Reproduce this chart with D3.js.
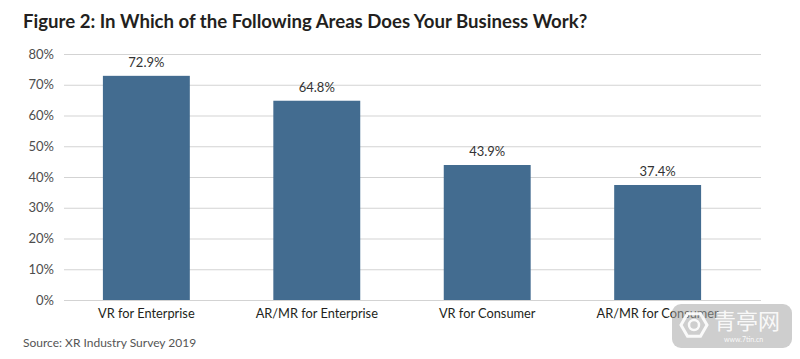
<!DOCTYPE html>
<html>
<head>
<meta charset="utf-8">
<script src="https://cdn.jsdelivr.net/npm/d3@7"></script>
<style>
    body { margin: 0; background: #fff; }
    svg { font-family: Lato, "Open Sans", sans-serif; }
</style>
</head>
<body>
<svg width="800" height="359"></svg>
<script>
// chart data
const categories = ["VR for Enterprise", "AR/MR for Enterprise", "VR for Consumer", "AR/MR for Consumer"];
const values = [72.9, 64.8, 43.9, 37.4];
const yTicks = [0, 10, 20, 30, 40, 50, 60, 70, 80];

const svg = d3.select("svg");

const x = d3.scaleBand()
    .domain(categories)
    .range([62, 742])
    .paddingInner(0.49)
    .paddingOuter(0.24);

const y = d3.scaleLinear()
    .domain([0, 80])
    .range([300, 54]);

// title
svg.append("text")
    .attr("x", 23)
    .attr("y", 28)
    .attr("font-size", 18.6)
    .attr("font-weight", "bold")
    .attr("fill", "#231f20")
    .text("Figure 2: In Which of the Following Areas Does Your Business Work?");

// gridlines + y labels
const yAxis = svg.append("g")
    .attr("transform", "translate(64,0)")
    .call(d3.axisLeft(y).tickValues(yTicks).tickSize(-697).tickPadding(10).tickFormat(d => d + "%"));
yAxis.select(".domain").remove();
yAxis.selectAll(".tick line").attr("stroke", "#d3d3d3");
yAxis.selectAll(".tick text")
    .attr("font-size", 13)
    .attr("font-family", "Lato, sans-serif")
    .attr("fill", "#4d4d4d");

// bars
svg.append("g")
    .selectAll("rect")
    .data(values)
    .join("rect")
    .attr("x", (d, i) => x(categories[i]))
    .attr("y", d => y(d))
    .attr("width", x.bandwidth())
    .attr("height", d => y(0) - y(d))
    .attr("fill", "#436c90");

// value labels
svg.append("g")
    .selectAll("text")
    .data(values)
    .join("text")
    .attr("x", (d, i) => x(categories[i]) + x.bandwidth() / 2)
    .attr("y", d => y(d) - 9)
    .attr("text-anchor", "middle")
    .attr("font-size", 13)
    .attr("fill", "#333")
    .text(d => d.toFixed(1) + "%");

// category labels
svg.append("g")
    .selectAll("text")
    .data(categories)
    .join("text")
    .attr("x", d => x(d) + x.bandwidth() / 2)
    .attr("y", 318)
    .attr("text-anchor", "middle")
    .attr("font-size", 12.8)
    .attr("fill", "#231f20")
    .text(d => d);

// source
svg.append("text")
    .attr("x", 23)
    .attr("y", 347)
    .attr("font-size", 12)
    .attr("fill", "#555")
    .text("Source: XR Industry Survey 2019");

// watermark
const wm = svg.append("g").attr("transform", "translate(672,304)");
wm.append("rect")
    .attr("width", 120)
    .attr("height", 44)
    .attr("rx", 9)
    .attr("fill", "rgba(165,165,165,0.55)");
const hex = d3.range(6).map(i => {
    const a = Math.PI / 3 * i;
    return [22 + 13 * Math.cos(a), 21 + 13 * Math.sin(a)];
});
wm.append("polygon")
    .attr("points", hex.map(p => p.join(",")).join(" "))
    .attr("fill", "none")
    .attr("stroke", "rgba(255,255,255,0.9)")
    .attr("stroke-width", 3);
wm.append("circle")
    .attr("cx", 22).attr("cy", 21).attr("r", 5)
    .attr("fill", "none")
    .attr("stroke", "rgba(255,255,255,0.9)")
    .attr("stroke-width", 2.5);
wm.append("text")
    .attr("x", 42).attr("y", 25)
    .attr("font-size", 22)
    .attr("font-family", "Noto Sans CJK SC")
    .attr("fill", "rgba(255,255,255,0.9)")
    .text("青亭网");
wm.append("text")
    .attr("x", 52).attr("y", 38)
    .attr("font-size", 7)
    .attr("fill", "rgba(255,255,255,0.9)")
    .text("www.7tin.cn");
</script>
</body>
</html>
